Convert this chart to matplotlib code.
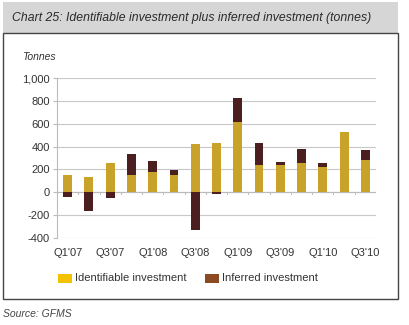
import matplotlib
matplotlib.use('Agg')
import matplotlib.pyplot as plt
from matplotlib.patches import Rectangle
import numpy as np

plt.rcParams['font.family'] = ['Liberation Sans', 'DejaVu Sans']

quarters = ["Q1'07", "Q2'07", "Q3'07", "Q4'07", "Q1'08", "Q2'08", "Q3'08", "Q4'08",
            "Q1'09", "Q2'09", "Q3'09", "Q4'09", "Q1'10", "Q2'10", "Q3'10"]
identifiable = [154, 136, 252, 148, 174, 151, 420, 435, 614, 243, 238, 252, 223, 527, 284]
inferred = [-41, -162, -52, 191, 104, 46, -333, -15, 212, 186, 23, 125, 32, 0, 87]

gold = '#c9a22a'
dark = '#4b1f20'

fig = plt.figure(figsize=(4.1, 3.25), dpi=100)

# frame and title band
W, H = 410, 325
fig.patches.append(Rectangle((3 / W, 1 - 33 / H), 395 / W, 31 / H, transform=fig.transFigure,
                             facecolor='#d6d6d6', edgecolor='none', zorder=0))
fig.patches.append(Rectangle((3 / W, 1 - 299 / H), 395 / W, 266 / H, transform=fig.transFigure,
                             facecolor='none', edgecolor='#444444', linewidth=1.0, zorder=1))
fig.text(12 / W, 1 - 18 / H, 'Chart 25: Identifiable investment plus inferred investment (tonnes)',
         fontsize=8.85, style='italic', color='#2a2a2a', va='center', ha='left')
fig.text(22 / W, 1 - 57 / H, 'Tonnes', fontsize=7.5, style='italic', color='#333333',
         va='center', ha='left')
fig.text(3 / W, 1 - 314 / H, 'Source: GFMS', fontsize=7.5, style='italic', color='#444444',
         va='center', ha='left')

ax = fig.add_axes([57 / W, 1 - 238 / H, 319 / W, 160 / H])
x = np.arange(len(quarters))
ident = np.array(identifiable)
inf = np.array(inferred)
bottoms = np.where(inf > 0, ident, 0)
ax.bar(x, ident, width=0.42, color=gold, zorder=3)
ax.bar(x, inf, width=0.42, bottom=bottoms, color=dark, zorder=3)

ax.set_xlim(-0.5, len(quarters) - 0.5)
ax.set_ylim(-400, 1000)
ax.set_yticks(range(-400, 1001, 200))
ax.set_yticklabels(['{:,}'.format(v) for v in range(-400, 1001, 200)])
ax.grid(axis='y', color='#c8c8c8', linewidth=0.8, zorder=0)
ax.axhline(0, color='#bbbbbb', linewidth=0.8, zorder=2)
for xb in np.arange(0.5, len(quarters) - 0.5, 1):
    ax.plot([xb, xb], [0, -12], color='#bbbbbb', linewidth=0.7, zorder=2)
for s in ['top', 'right', 'bottom']:
    ax.spines[s].set_visible(False)
ax.spines['left'].set_color('#bbbbbb')
ax.tick_params(axis='y', length=3, color='#bbbbbb', labelsize=8, labelcolor='#333333', pad=2)
ax.set_xticks(x[::2])
ax.set_xticklabels(quarters[::2])
ax.tick_params(axis='x', length=0, labelsize=8, labelcolor='#333333', pad=7)

# legend
fig.patches.append(Rectangle((58 / W, 1 - 283 / H), 14 / W, 9 / H, transform=fig.transFigure,
                             facecolor='#f2c200', edgecolor='none'))
fig.text(75 / W, 1 - 278 / H, 'Identifiable investment', fontsize=8, color='#333333',
         va='center', ha='left')
fig.patches.append(Rectangle((205 / W, 1 - 283 / H), 14 / W, 9 / H, transform=fig.transFigure,
                             facecolor='#8b4a22', edgecolor='none'))
fig.text(222 / W, 1 - 278 / H, 'Inferred investment', fontsize=8, color='#333333',
         va='center', ha='left')

fig.savefig('out.png', dpi=100)
